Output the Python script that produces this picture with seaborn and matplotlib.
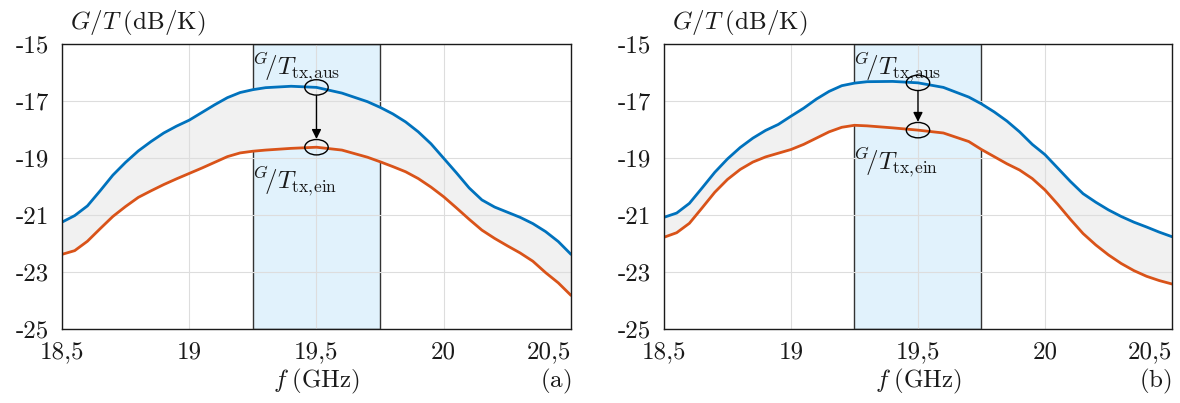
import numpy as np
import pandas as pd
import matplotlib
matplotlib.use('Agg')
import matplotlib.pyplot as plt
from matplotlib.patches import Ellipse
import seaborn as sns

# ── DATA ─────────────────────────────────────────────────────────────────────
freq = [18.50, 18.55, 18.60, 18.65, 18.70, 18.75, 18.80, 18.85, 18.90, 18.95,
        19.00, 19.05, 19.10, 19.15, 19.20, 19.25, 19.30, 19.40, 19.50, 19.60,
        19.70, 19.75, 19.80, 19.85, 19.90, 19.95, 20.00, 20.05, 20.10, 20.15,
        20.20, 20.25, 20.30, 20.35, 20.40, 20.45, 20.50]

# panel (a)
a_aus = [-21.25, -21.02, -20.68, -20.15, -19.60, -19.15, -18.75, -18.42, -18.12, -17.88,
         -17.67, -17.40, -17.13, -16.88, -16.70, -16.60, -16.53, -16.48, -16.52, -16.72,
         -17.02, -17.22, -17.45, -17.73, -18.08, -18.50, -19.01, -19.52, -20.05, -20.47,
         -20.72, -20.90, -21.08, -21.30, -21.58, -21.93, -22.38]
a_ein = [-22.38, -22.25, -21.92, -21.48, -21.05, -20.70, -20.38, -20.15, -19.93, -19.73,
         -19.54, -19.35, -19.15, -18.95, -18.82, -18.76, -18.72, -18.66, -18.62, -18.72,
         -18.97, -19.13, -19.30, -19.48, -19.72, -20.02, -20.36, -20.75, -21.15, -21.53,
         -21.82, -22.08, -22.33, -22.62, -23.02, -23.38, -23.82]

# panel (b)
b_aus = [-21.08, -20.93, -20.59, -20.05, -19.50, -19.03, -18.63, -18.30, -18.03, -17.82,
         -17.53, -17.25, -16.93, -16.66, -16.46, -16.37, -16.32, -16.31, -16.36, -16.52,
         -16.86, -17.10, -17.38, -17.70, -18.08, -18.52, -18.88, -19.35, -19.82, -20.25,
         -20.55, -20.82, -21.05, -21.25, -21.42, -21.60, -21.76]
b_ein = [-21.78, -21.62, -21.29, -20.75, -20.20, -19.75, -19.40, -19.14, -18.96, -18.83,
         -18.70, -18.52, -18.30, -18.08, -17.92, -17.85, -17.87, -17.94, -18.02, -18.12,
         -18.42, -18.70, -18.95, -19.20, -19.42, -19.72, -20.12, -20.62, -21.15, -21.65,
         -22.05, -22.40, -22.70, -22.95, -23.15, -23.30, -23.42]

band = [19.25, 19.75]
f_mark = 19.5
x_ticks = [18.5, 19, 19.5, 20, 20.5]
x_labels = ['18,5', '19', '19,5', '20', '20,5']
y_ticks = [-15, -17, -19, -21, -23, -25]
y_labels = ['-15', '-17', '-19', '-21', '-23', '-25']
panel_tags = ['a', 'b']

# ── STYLE ────────────────────────────────────────────────────────────────────
sns.set_style('white')
plt.rcParams['font.family'] = ['cmr10', 'DejaVu Serif']
plt.rcParams['mathtext.fontset'] = 'cm'
plt.rcParams['axes.unicode_minus'] = False

BLUE = '#0072BD'
ORANGE = '#D95319'
INK = '#1a1a1a'
FS = 18

fig = plt.figure(figsize=(11.8, 4.03), dpi=100)
positions = [[0.0525, 0.1836, 0.4314, 0.707], [0.5627, 0.1836, 0.4305, 0.707]]
panels = [(a_aus, a_ein), (b_aus, b_ein)]
label_pos = [(-15.2, -19.2), (-15.2, -18.55)]

for i, (aus, ein) in enumerate(panels):
    ax = fig.add_axes(positions[i])
    df = pd.DataFrame({'f': freq, 'aus': aus, 'ein': ein})

    ax.axvspan(band[0], band[1], facecolor='#E1F2FC', edgecolor='#333333', lw=1.0, zorder=0)
    ax.fill_between(df['f'], df['aus'], df['ein'], color='#F1F1F1', lw=0, zorder=1)
    sns.lineplot(data=df, x='f', y='aus', color=BLUE, lw=2, ax=ax, zorder=3)
    sns.lineplot(data=df, x='f', y='ein', color=ORANGE, lw=2, ax=ax, zorder=3)

    # markers and arrow at 19.5 GHz
    y_top = np.interp(f_mark, freq, aus)
    y_bot = np.interp(f_mark, freq, ein)
    for yc in (y_top, y_bot):
        ax.add_patch(Ellipse((f_mark, yc), 0.092, 0.54, fill=False, ec='k', lw=1.0, zorder=4))
    ax.annotate('', xy=(f_mark, y_bot + 0.29), xytext=(f_mark, y_top - 0.29),
                arrowprops=dict(arrowstyle='-|>', color='k', lw=1.0, mutation_scale=14,
                                shrinkA=0, shrinkB=0), zorder=4)

    ax.text(19.245, label_pos[i][0], r'$^{G}\!/T_{\mathrm{tx,\!aus}}$', fontsize=FS,
            ha='left', va='top', color=INK)
    ax.text(19.245, label_pos[i][1], r'$^{G}\!/T_{\mathrm{tx,\!ein}}$', fontsize=FS,
            ha='left', va='top', color=INK)

    ax.set_xlim(18.5, 20.5)
    ax.set_ylim(-25, -15)
    ax.set_xticks(x_ticks)
    ax.set_xticklabels(x_labels, fontsize=FS)
    ax.get_xticklabels()[-1].set_horizontalalignment('right')
    ax.get_xticklabels()[0].set_horizontalalignment('center')
    ax.set_yticks(y_ticks)
    ax.set_yticklabels(y_labels, fontsize=FS)
    ax.tick_params(direction='in', length=4, width=0.8, pad=9, colors=INK)
    ax.grid(True, color='#DDDDDD', lw=0.8)
    ax.set_axisbelow(False)
    for s in ax.spines.values():
        s.set_color(INK)
        s.set_linewidth(1.0)
        s.set_zorder(5)

    ax.set_xlabel('')
    ax.set_ylabel('')
    ax.text(0.5, -0.183, r'$f\;(\mathrm{GHz})$', transform=ax.transAxes,
            fontsize=FS, ha='center', va='center', color=INK)
    ax.text(0.015, 1.02, r'$G/T\;(\mathrm{dB/K})$', transform=ax.transAxes,
            fontsize=FS, ha='left', va='bottom', color=INK)
    ax.text(1.0, -0.183, r'$(\mathrm{' + panel_tags[i] + r'})$', transform=ax.transAxes,
            fontsize=FS, ha='right', va='center', color=INK)

plt.savefig('out.png', dpi=100)
plt.close()
